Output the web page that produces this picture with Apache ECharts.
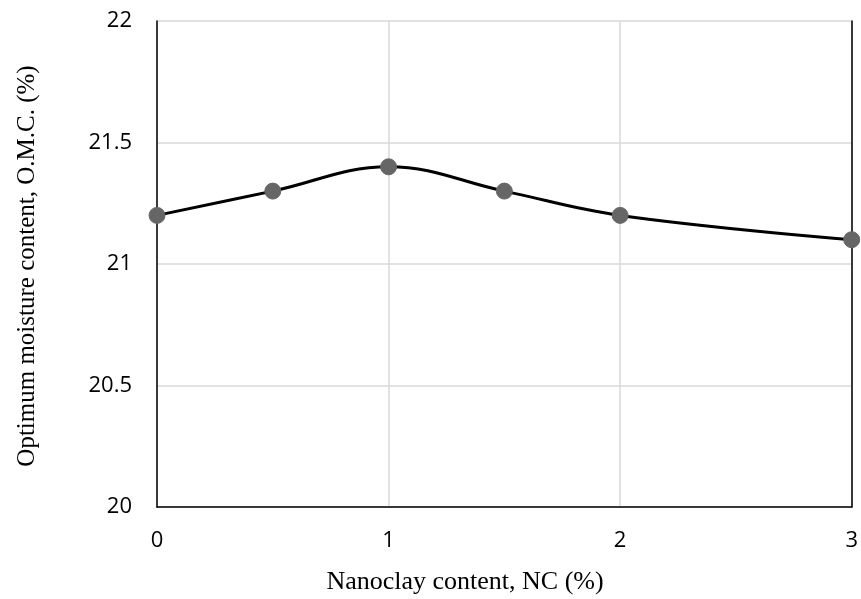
<!DOCTYPE html>
<html><head><meta charset="utf-8">
<script src="https://cdn.jsdelivr.net/npm/echarts@6/dist/echarts.min.js"></script>
<style>html,body{margin:0;padding:0;background:#fff}#c{width:861px;height:599px}</style>
</head><body><div id="c"></div>
<script>
const nanoclay = [0, 0.5, 1, 1.5, 2, 3];
const omc = [21.2, 21.3, 21.4, 21.3, 21.2, 21.1];
const xTicks = [0, 1, 2, 3];
const yTicks = [20, 20.5, 21, 21.5, 22];
const xTitle = 'Nanoclay content, NC (%)';
const yTitle = 'Optimum moisture content, O.M.C. (%)';

const chart = echarts.init(document.getElementById('c'));
chart.setOption({
  animation: false,
  grid: {left: 157, right: 5, top: 21, bottom: 92},
  graphic: [
    {type: 'text', x: 465, y: 582, style: {text: xTitle, font: '26px "Liberation Serif"', fill: '#000', align: 'center', verticalAlign: 'middle'}},
    {type: 'text', x: 27, y: 266, rotation: Math.PI / 2, style: {text: yTitle, font: '25px "Liberation Serif"', fill: '#000', align: 'center', verticalAlign: 'middle'}}
  ],
  xAxis: {
    type: 'value', min: 0, max: 3, interval: 1,
    axisLine: {show: true, lineStyle: {color: '#000', width: 1.5}},
    axisTick: {show: false},
    axisLabel: {fontFamily: 'Open Sans', fontSize: 22, color: '#000', margin: 23,
      formatter: v => xTicks.includes(v) ? String(v) : ''},
    splitLine: {show: true, lineStyle: {color: '#d9d9d9', width: 1.5}}
  },
  yAxis: [{
    type: 'value', min: 20, max: 22, interval: 0.5,
    axisLine: {show: true, lineStyle: {color: '#000', width: 1.5}},
    axisTick: {show: false},
    axisLabel: {fontFamily: 'Open Sans', fontSize: 22, color: '#000', margin: 25,
      formatter: v => yTicks.includes(v) ? String(v) : ''},
    splitLine: {show: true, lineStyle: {color: '#d9d9d9', width: 1.5}}
  }, {
    type: 'value', min: 20, max: 22, position: 'right',
    axisLine: {show: true, onZero: false, lineStyle: {color: '#000', width: 1.5}},
    axisTick: {show: false}, axisLabel: {show: false}, splitLine: {show: false}
  }],
  series: [{
    type: 'line',
    data: nanoclay.map((x, i) => [x, omc[i]]),
    smooth: 0.4,
    symbol: 'circle', symbolSize: 16,
    lineStyle: {color: '#000', width: 3},
    itemStyle: {color: '#666666', borderColor: '#666666'}
  }]
});
</script></body></html>
